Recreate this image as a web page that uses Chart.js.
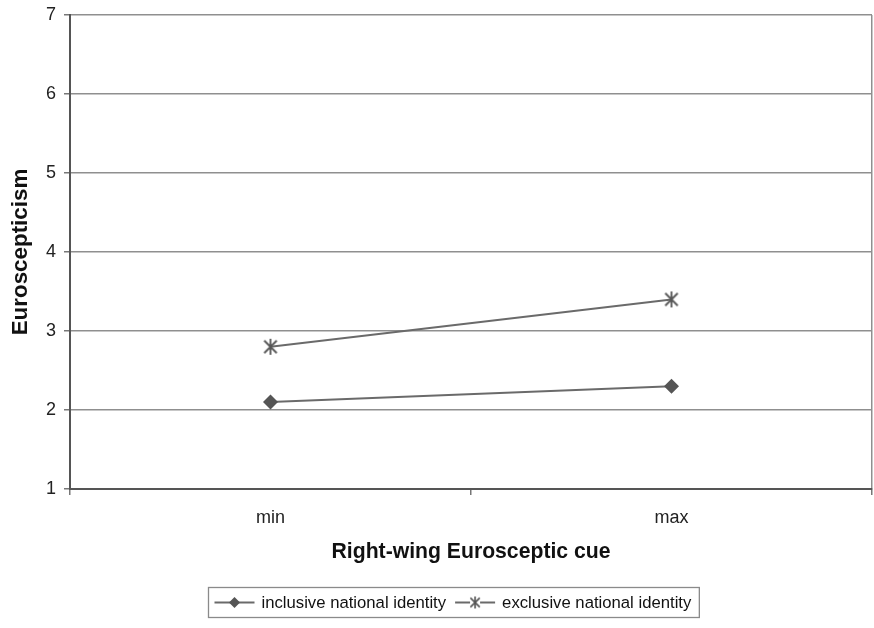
<!DOCTYPE html>
<html>
<head>
<meta charset="utf-8">
<script src="https://cdn.jsdelivr.net/npm/chart.js@4"></script>
<style>
  html, body { margin: 0; padding: 0; background: #fff; }
  #wrap { width: 874px; height: 628px; }
</style>
</head>
<body>
<div id="wrap"><canvas id="c" width="874" height="628"></canvas></div>
<script>
const categories = ['min', 'max'];
const inclusiveValues = [2.1, 2.3];
const exclusiveValues = [2.8, 3.4];
const seriesNames = ['inclusive national identity', 'exclusive national identity'];
const yTickValues = [1, 2, 3, 4, 5, 6, 7];
const xTitle = 'Right-wing Eurosceptic cue';
const yTitle = 'Euroscepticism';

const FONT = "'Liberation Sans', Arial, Helvetica, sans-serif";
const LINE = '#6a6a6a';
const MARK = '#555555';

function makeStar(r, lw) {
  const s = Math.ceil(r * 2 + lw * 2);
  const cv = document.createElement('canvas');
  cv.width = s; cv.height = s;
  const g = cv.getContext('2d');
  const c = s / 2;
  g.strokeStyle = MARK; g.lineWidth = lw; g.lineCap = 'butt';
  g.beginPath();
  g.moveTo(c, c - r); g.lineTo(c, c + r);
  const d = r * 0.78;
  g.moveTo(c - d, c - d); g.lineTo(c + d, c + d);
  g.moveTo(c - d, c + d); g.lineTo(c + d, c - d);
  g.stroke();
  return cv;
}
const starBig = makeStar(8, 1.8);
const starSmall = makeStar(6, 1.6);

const legendPlugin = {
  id: 'boxLegend',
  afterDraw(chart) {
    const ctx = chart.ctx;
    ctx.save();
    ctx.font = '16.7px ' + FONT;
    const padL = 6, lineLen = 40, gap = 7, itemGap = 9, padR = 8;
    const w0 = ctx.measureText(seriesNames[0]).width;
    const w1 = ctx.measureText(seriesNames[1]).width;
    const total = padL + lineLen + gap + w0 + itemGap + lineLen + gap + w1 + padR;
    const cx = 453;
    const left = Math.round(cx - total / 2) + 0.5;
    const top = 587.5, h = 30;
    ctx.strokeStyle = '#8a8a8a';
    ctx.lineWidth = 1.3;
    ctx.strokeRect(left, top, total, h);
    const cy = top + h / 2;
    let x = left + padL;
    // item 1
    ctx.strokeStyle = LINE; ctx.lineWidth = 2;
    ctx.beginPath(); ctx.moveTo(x, cy); ctx.lineTo(x + lineLen, cy); ctx.stroke();
    const mx = x + lineLen / 2, r = 5.5;
    ctx.fillStyle = MARK;
    ctx.beginPath();
    ctx.moveTo(mx, cy - r); ctx.lineTo(mx + r, cy); ctx.lineTo(mx, cy + r); ctx.lineTo(mx - r, cy); ctx.closePath();
    ctx.fill();
    x += lineLen + gap;
    ctx.fillStyle = '#111';
    ctx.textBaseline = 'middle';
    ctx.textAlign = 'left';
    ctx.fillText(seriesNames[0], x, cy + 1);
    x += w0 + itemGap;
    // item 2
    ctx.strokeStyle = LINE; ctx.lineWidth = 2;
    ctx.beginPath(); ctx.moveTo(x, cy); ctx.lineTo(x + lineLen, cy); ctx.stroke();
    const mx2 = x + lineLen / 2;
    ctx.fillStyle = '#fff';
    ctx.fillRect(mx2 - 5, cy - 6, 10, 12);
    ctx.drawImage(starSmall, mx2 - starSmall.width / 2, cy - starSmall.height / 2);
    x += lineLen + gap;
    ctx.fillStyle = '#111';
    ctx.fillText(seriesNames[1], x, cy + 1);
    ctx.restore();
  }
};

function zeroPad(s) {
  s.paddingLeft = 0; s.paddingRight = 0; s.paddingTop = 0; s.paddingBottom = 0;
}

new Chart(document.getElementById('c'), {
  type: 'line',
  data: {
    labels: categories,
    datasets: [
      {
        label: seriesNames[0],
        data: inclusiveValues,
        borderColor: LINE,
        borderWidth: 2,
        pointStyle: 'rectRot',
        pointRadius: 7.5,
        pointBackgroundColor: MARK,
        pointBorderColor: MARK,
        pointBorderWidth: 0,
        tension: 0
      },
      {
        label: seriesNames[1],
        data: exclusiveValues,
        borderColor: LINE,
        borderWidth: 2,
        pointStyle: starBig,
        pointRadius: 8,
        tension: 0
      }
    ]
  },
  options: {
    responsive: false,
    animation: false,
    events: [],
    layout: { autoPadding: false, padding: { left: 0, right: 2, top: 15, bottom: 0 } },
    plugins: {
      legend: { display: false },
      tooltip: { enabled: false },
      title: { display: false }
    },
    scales: {
      x: {
        type: 'category',
        offset: true,
        grid: {
          offset: true,
          drawOnChartArea: true,
          color: c => c.type === 'tick' ? 'rgba(0,0,0,0)' : '#8f8f8f',
          lineWidth: 1.5,
          tickColor: '#777',
          tickLength: 6,
          tickWidth: 1.5
        },
        border: { display: true, color: '#555', width: 2 },
        ticks: {
          color: '#222',
          font: { family: FONT, size: 18 },
          padding: 12,
          maxRotation: 0
        },
        title: {
          display: true,
          text: xTitle,
          color: '#111',
          font: { family: FONT, size: 21.2, weight: 'bold' },
          padding: { top: 0, bottom: 63 }
        },
        afterFit(s) { s.height = 139; zeroPad(s); }
      },
      y: {
        min: 1,
        max: 7,
        afterBuildTicks(s) { s.ticks = yTickValues.map(v => ({ value: v })); },
        grid: {
          color: '#8f8f8f',
          lineWidth: 1.5,
          tickColor: '#777',
          tickLength: 6,
          tickWidth: 1.5
        },
        border: { display: true, color: '#555', width: 2 },
        ticks: {
          color: '#222',
          font: { family: FONT, size: 18 },
          padding: 8
        },
        title: {
          display: true,
          text: yTitle,
          color: '#111',
          font: { family: FONT, size: 22.4, weight: 'bold' },
          padding: { top: 7, bottom: 0 }
        },
        afterFit(s) { s.width = 70; zeroPad(s); }
      }
    }
  },
  plugins: [legendPlugin]
});
</script>
</body>
</html>
